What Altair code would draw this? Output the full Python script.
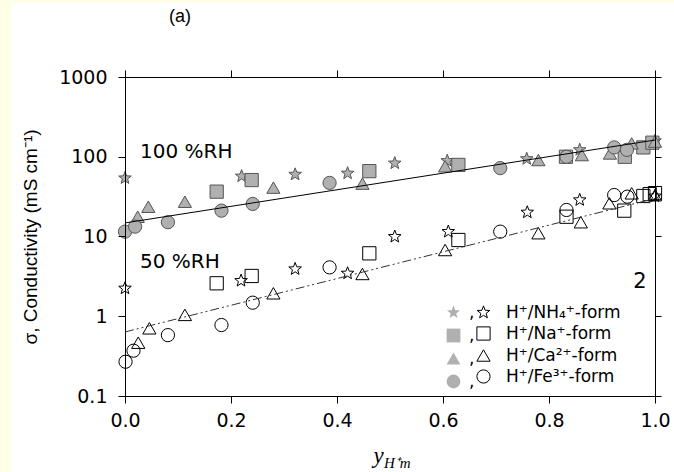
import math
import altair as alt
import pandas as pd

# ---------------- data ----------------
ions = ["H⁺/NH₄⁺-form", "H⁺/Na⁺-form", "H⁺/Ca²⁺-form", "H⁺/Fe³⁺-form"]

# 100 %RH (filled symbols)
nh4_100_x = [0.0, 0.220, 0.321, 0.420, 0.509, 0.608, 0.758, 0.858, 1.0]
nh4_100_y = [54, 57, 60, 62, 83, 89, 94, 122, 158]
na_100_x = [0.173, 0.239, 0.461, 0.629, 0.832, 0.943, 0.978, 0.995]
na_100_y = [36.5, 51, 66, 79, 100, 100, 131, 150]
ca_100_x = [0.024, 0.044, 0.113, 0.280, 0.448, 0.604, 0.780, 0.862, 0.915, 0.956, 1.0]
ca_100_y = [17.7, 23.6, 27.3, 41, 46, 76, 91, 105, 110, 147, 155]
fe_100_x = [0.0, 0.019, 0.081, 0.182, 0.241, 0.386, 0.708, 0.833, 0.923, 0.947]
fe_100_y = [11.5, 13.3, 15.1, 21.1, 25.6, 47, 72, 100, 131, 122]

# 50 %RH (open symbols)
nh4_50_x = [0.0, 0.219, 0.321, 0.420, 0.509, 0.610, 0.759, 0.858, 1.0]
nh4_50_y = [2.24, 2.79, 3.91, 3.45, 9.95, 11.5, 20.1, 28.7, 32]
na_50_x = [0.173, 0.239, 0.461, 0.629, 0.833, 0.942, 0.978, 0.990, 1.0]
na_50_y = [2.59, 3.2, 6.15, 9.04, 17.7, 21.1, 32.2, 34, 35]
ca_50_x = [0.025, 0.046, 0.113, 0.280, 0.448, 0.604, 0.780, 0.860, 0.914, 0.956, 1.0]
ca_50_y = [0.466, 0.706, 1.04, 1.94, 3.39, 6.77, 11.0, 15.1, 26.1, 34.8, 33]
fe_50_x = [0.001, 0.016, 0.081, 0.182, 0.241, 0.386, 0.708, 0.833, 0.923, 0.948]
fe_50_y = [0.269, 0.37, 0.58, 0.776, 1.48, 4.1, 11.5, 21.5, 33.1, 31.6]

# fitted lines
line_x = [0.0, 1.0]
line_100 = [14.8, 162]
line_50 = [0.635, 30]

x_ticks = [0.0, 0.2, 0.4, 0.6, 0.8, 1.0]
y_ticks = [0.1, 1, 10, 100, 1000]

# ---------------- tables ----------------
def table(groups):
    rows = []
    for ion, xs, ys in groups:
        for a, b in zip(xs, ys):
            rows.append({"ion": ion, "x": a, "y": b})
    return pd.DataFrame(rows)

df100 = table([(ions[0], nh4_100_x, nh4_100_y), (ions[1], na_100_x, na_100_y),
               (ions[2], ca_100_x, ca_100_y), (ions[3], fe_100_x, fe_100_y)])
df50 = table([(ions[0], nh4_50_x, nh4_50_y), (ions[1], na_50_x, na_50_y),
              (ions[2], ca_50_x, ca_50_y), (ions[3], fe_50_x, fe_50_y)])
dl100 = pd.DataFrame({"x": line_x, "y": line_100})
dl50 = pd.DataFrame({"x": line_x, "y": line_50})

# star symbol path
pts = []
for i in range(10):
    r = 1.0 if i % 2 == 0 else 0.42
    a = -math.pi / 2 + i * math.pi / 5
    pts.append(f"{r*math.cos(a):.3f},{r*math.sin(a):.3f}")
STAR = "M" + "L".join(pts) + "Z"
shapes = [STAR, "square", "triangle-up", "circle"]

W, H = 530, 319
SANS = "DejaVu Sans"

xscale = alt.Scale(domain=[0, 1], nice=False, zero=False)
yscale = alt.Scale(type="log", domain=[0.1, 1000], nice=False)

x_bottom = alt.Axis(values=x_ticks, format=".1f", grid=False, tickSize=7, tickColor="black",
                    domainColor="black", labelFont=SANS, labelFontSize=19, labelColor="black",
                    labelPadding=8, labelFlush=False, labelOverlap=False,
                    title="y", titleFont="Liberation Serif", titleFontStyle="italic",
                    titleFontWeight="normal", titleFontSize=23, titleColor="black",
                    titleX=253, titleY=66, titleAlign="center", titleBaseline="alphabetic",
                    zindex=2)
y_left = alt.Axis(values=y_ticks, format="~g", grid=False, tickSize=7, tickColor="black",
                  domainColor="black", labelFont=SANS, labelFontSize=19, labelColor="black",
                  labelPadding=11, labelFlush=False, labelOverlap=False,
                  title="σ, Conductivity (mS cm⁻¹)", titleFont="Liberation Sans",
                  titleFontWeight="normal", titleFontSize=19, titleColor="black",
                  titleX=-95, titleY=H / 2, titleAngle=270, titleAlign="center",
                  titleBaseline="middle", zindex=2)
x_top = alt.Axis(orient="top", values=x_ticks, labels=False, grid=False, tickSize=7,
                 tickColor="black", domainColor="black", title=None, zindex=2)
y_right = alt.Axis(orient="right", values=y_ticks, labels=False, grid=False, tickSize=6,
                   tickColor="black", domainColor="black", title=None, zindex=2)

bg = alt.Chart(alt.Data(values=[{}])).mark_rect(color="white").encode(
    x=alt.value(-114), x2=alt.value(549), y=alt.value(-74), y2=alt.value(395))

filled = alt.Chart(df100).mark_point(filled=True, fill="#b0b0b0", stroke="#555555",
                                     strokeWidth=1, size=175, opacity=1).encode(
    x=alt.X("x:Q", scale=xscale, axis=x_bottom),
    y=alt.Y("y:Q", scale=yscale, axis=y_left),
    shape=alt.Shape("ion:N", scale=alt.Scale(domain=ions, range=shapes),
                    legend=alt.Legend(orient="none", legendX=320, legendY=227, title=None,
                                      labelExpr="','", labelFont=SANS, labelFontSize=17,
                                      labelColor="black", labelOffset=7, symbolSize=190,
                                      symbolFillColor="#b0b0b0", symbolStrokeColor="#b0b0b0",
                                      rowPadding=3, padding=0)),
)

opened = alt.Chart(df50).mark_point(filled=False, color="black", strokeWidth=1,
                                    size=175, opacity=1).encode(
    x=alt.X("x:Q", scale=xscale, axis=None),
    y=alt.Y("y:Q", scale=yscale, axis=None),
    shape=alt.Shape("ion:N", scale=alt.Scale(domain=ions, range=shapes),
                    legend=alt.Legend(orient="none", legendX=350, legendY=227, title=None,
                                      labelFont=SANS, labelFontSize=17, labelColor="black",
                                      labelOffset=14, symbolSize=175, symbolStrokeColor="black",
                                      symbolStrokeWidth=1, rowPadding=3, padding=0)),
)

l100 = alt.Chart(dl100).mark_line(color="black", strokeWidth=1).encode(
    x=alt.X("x:Q", scale=xscale, axis=None), y=alt.Y("y:Q", scale=yscale, axis=None))
l50 = alt.Chart(dl50).mark_line(color="#333333", strokeWidth=1,
                                strokeDash=[9, 3, 2, 3, 2, 3]).encode(
    x=alt.X("x:Q", scale=xscale, axis=None), y=alt.Y("y:Q", scale=yscale, axis=None))
frame = alt.Chart(dl100).mark_line(opacity=0).encode(
    x=alt.X("x:Q", scale=xscale, axis=x_top), y=alt.Y("y:Q", scale=yscale, axis=y_right))


def label(txt, x, y, size=19, font=SANS, align="left", baseline="middle", style="normal"):
    return alt.Chart(alt.Data(values=[{"t": txt}])).mark_text(
        font=font, fontSize=size, align=align, baseline=baseline, fontStyle=style,
        color="black").encode(text="t:N", x=alt.value(x), y=alt.value(y))


texts = [
    label("(a)", 55, -60, size=18, font="Liberation Sans", align="center"),
    label("100 %RH", 15, 75, size=20),
    label("50 %RH", 15, 185, size=20),
    label("2", 515, 205, size=21, align="center"),
    label("H⁺m", 259, 391, size=15, font="Liberation Serif", baseline="alphabetic", style="italic"),
]

chart = alt.layer(bg, filled, opened, l100, l50, frame, *texts).resolve_scale(
    shape="independent").resolve_axis(x="independent", y="independent").resolve_legend(
    shape="independent").properties(
    width=W, height=H, background="#FFFFE8",
    padding={"left": 125, "top": 77, "right": 19, "bottom": 76},
    autosize=alt.AutoSizeParams(type="none"),
).configure_view(stroke=None)

chart.save("out.html", embed_options={"renderer": "svg", "actions": False})
